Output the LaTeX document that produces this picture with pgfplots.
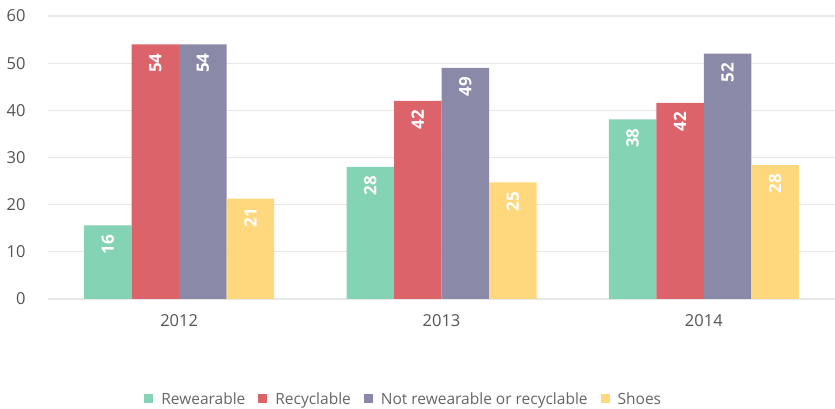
\documentclass[border=0pt]{standalone}
\usepackage{fontspec}
\setmainfont{Open Sans}
\usepackage{pgfplots}
\pgfplotsset{compat=1.18}
\definecolor{cgreen}{HTML}{83D3B4}
\definecolor{cred}{HTML}{DC6369}
\definecolor{cpurple}{HTML}{8B89A8}
\definecolor{cyellow}{HTML}{FFD77C}
\definecolor{gridc}{HTML}{E8E8E8}
\definecolor{tickc}{HTML}{555555}
\definecolor{legc}{HTML}{666666}
\begin{document}
\begin{tikzpicture}
\begin{axis}[
  scale only axis, width=787pt, height=283pt,
  ybar=0pt, bar width=47.5pt,
  xmin=-0.5, xmax=2.5, ymin=0, ymax=60,
  xtick={0,1,2}, xticklabels={2012,2013,2014},
  ytick={0,10,...,60},
  ymajorgrids, grid style={draw=gridc, line width=1.3pt},
  axis line style={draw=none}, major tick length=0pt,
  /pgf/number format/assume math mode=true,
  tick label style={font=\fontsize{16.5}{19}\selectfont, text=tickc},
  yticklabel style={anchor=east, xshift=-19pt},
  xticklabel style={anchor=center, yshift=-22pt},
  nodes near coords={\pgfmathprintnumber[fixed,precision=0]{\pgfplotspointmeta}},
  every node near coord/.append style={rotate=90, anchor=east, text=white,
     font=\bfseries\fontsize{17}{20}\selectfont, inner xsep=9pt},
  legend style={at={(0.452,-0.353)}, anchor=center, draw=none, fill=none,
     legend columns=-1, font=\fontsize{15.5}{18}\selectfont, text=legc,
     /tikz/every odd column/.append style={column sep=6pt},
     /tikz/every even column/.append style={column sep=11pt}},
  legend image code/.code={\fill[#1] (0pt,-4.5pt) rectangle (9pt,4.5pt);},
]
\addplot[fill=cgreen, draw=none] coordinates {(0,15.6) (1,28) (2,38.1)};
\addplot[fill=cred, draw=none] coordinates {(0,54) (1,42) (2,41.6)};
\addplot[fill=cpurple, draw=none] coordinates {(0,54) (1,49) (2,52)};
\addplot[fill=cyellow, draw=none] coordinates {(0,21.3) (1,24.7) (2,28.4)};
\legend{Rewearable, Recyclable, Not rewearable or recyclable, Shoes}
\end{axis}
\pgfresetboundingbox
\path[use as bounding box] (-48pt,-110pt) rectangle (787pt,299pt);
\end{tikzpicture}
\end{document}
